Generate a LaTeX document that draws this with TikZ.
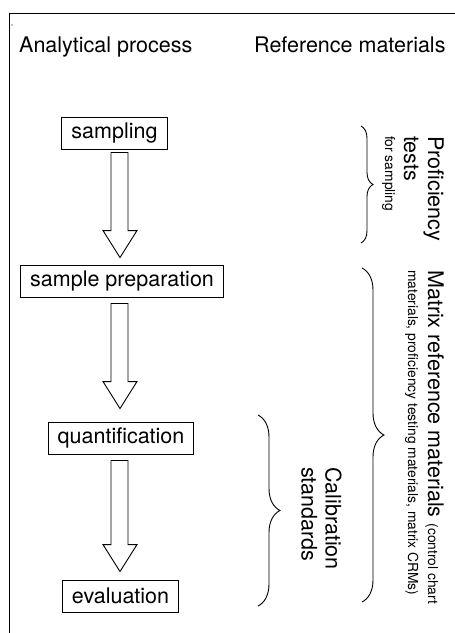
\documentclass[tikz,border=0pt]{standalone}
\usepackage{fontspec}
\setmainfont{TeX Gyre Heros}
\usetikzlibrary{calc,decorations.pathreplacing}

\newcommand{\bigfont}{\fontsize{21.5}{24}\selectfont}
\newcommand{\smallfont}{\fontsize{13.8}{16}\selectfont}
% hollow arrow between two stages: #3 gap below #1, #4 gap above #2
\newcommand{\flowarrow}[4]{%
  \draw[flow] let \p1=(#1.south), \p2=(#2.north) in
    (111pt,\y1-#3pt) -- (128pt,\y1-#3pt) -- (128pt,\y2+#4pt+27pt) -- (137pt,\y2+#4pt+27pt)
    -- (120pt,\y2+#4pt) -- (103pt,\y2+#4pt+27pt) -- (111pt,\y2+#4pt+27pt) -- cycle;}

\begin{document}
\begin{tikzpicture}[x=1pt,y=-1pt,
    stage/.style={draw,line width=0.9pt,font=\bigfont,inner xsep=9.5pt,minimum height=32pt},
    flow/.style={draw,line width=0.9pt,line join=miter},
    curly/.style={draw,line width=0.9pt,decorate,decoration={brace,amplitude=#1}},
    sidetext/.style={rotate=-90,anchor=north west,align=left,inner sep=0pt,font=\bigfont}]
  \useasboundingbox (0,0) rectangle (455,633);
  \draw[line width=0.8pt] (455,13) -- (9,13) -- (9,633);
  \fill (12,25) circle (0.6);

  % column headers
  \node[font=\bigfont,anchor=base west,inner sep=0pt] (hproc) at (19,52) {Analytical process};
  \node[font=\bigfont,anchor=base west,inner sep=0pt] (hrefm) at (254,52) {Reference materials};

  % analytical process
  \node[stage] (samp) at (114.5,133) {sampling};
  \node[stage] (prep) at (122,281) {sample preparation};
  \node[stage] (quant) at (121,438) {quantification};
  \node[stage] (eval) at (120.5,596) {evaluation};
  \flowarrow{samp}{prep}{3}{7}
  \flowarrow{prep}{quant}{6}{13}
  \flowarrow{quant}{eval}{6}{8}

  % reference materials
  \draw[curly=12] (361,126) -- (361,243);
  \draw[curly=22] (362,268) -- (362,602);
  \draw[curly=22] (258,415) -- (258,606);
  \node[sidetext] (proftxt) at (444,136) {Proficiency\\tests\\[-5pt]{\smallfont for sampling}};
  \node[sidetext] (matrixtxt) at (444,270) {Matrix reference materials {\smallfont (control chart}\\[-4pt]{\smallfont materials, proficiency testing materials, matrix CRMs)}};
  \node[sidetext] (calibtxt) at (342,467) {Calibration\\standards};
\end{tikzpicture}
\end{document}
